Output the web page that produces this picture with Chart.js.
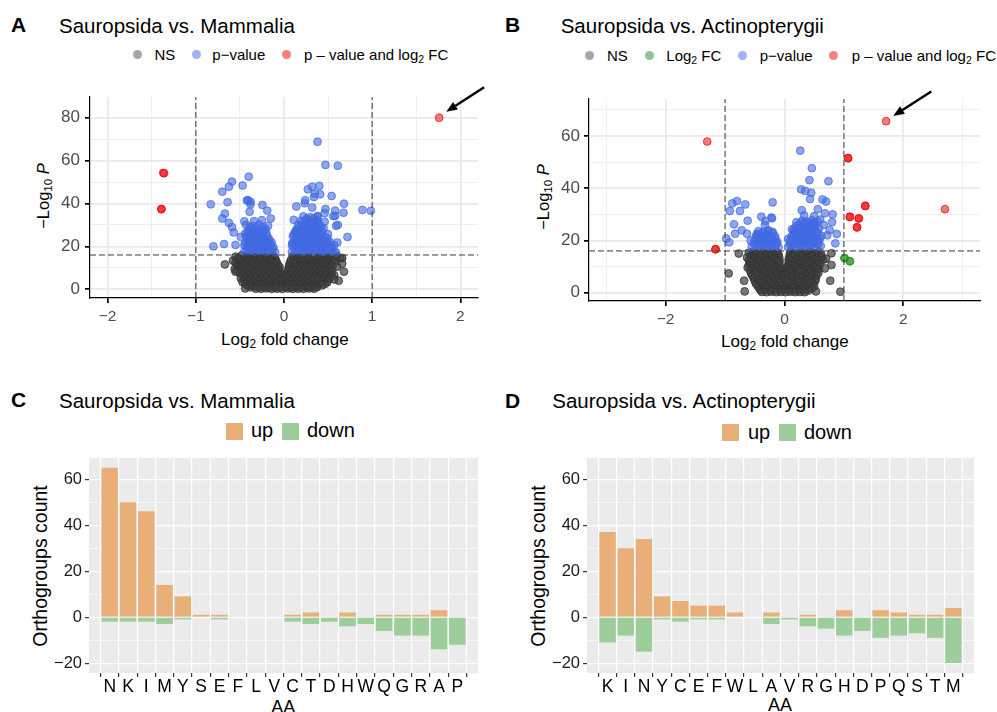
<!DOCTYPE html>
<html>
<head>
<meta charset="utf-8">
<title>Sauropsida volcano plots and AA orthogroups</title>
<script src="https://cdn.jsdelivr.net/npm/chart.js@4.4.1/dist/chart.umd.min.js"></script>
<style>
  html, body { margin: 0; padding: 0; background: #fff; }
  #fig { position: relative; width: 997px; height: 712px; overflow: hidden;
         font-family: 'Liberation Sans', Arial, Helvetica, sans-serif; color: #000; }
  #fig canvas { position: absolute; }
  .t { position: absolute; white-space: nowrap; line-height: 1; }
  .tag { font-size: 21px; font-weight: bold; }
  .title { font-size: 20.5px; }
  .lg { font-size: 15px; }
  .lg2 { font-size: 20px; }
  .dot { position: absolute; width: 9px; height: 9px; border-radius: 50%; }
  .sq { position: absolute; width: 17px; height: 17px; }
  .rot { position: absolute; white-space: nowrap; line-height: 1;
         transform: translate(-50%, -50%) rotate(-90deg); }
  sub { font-size: 0.7em; vertical-align: -0.25em; line-height: 0; }
</style>
</head>
<body>
<div id="fig">
  <!-- panel A -->
  <div class="t tag" style="left:11px;top:14px">A</div>
  <div class="t title" style="left:59px;top:15.6px">Sauropsida vs. Mammalia</div>
  <div class="dot" style="left:133.2px;top:49.5px;background:rgba(77,77,77,0.5)"></div>
  <div class="t lg" style="left:154.5px;top:47.3px">NS</div>
  <div class="dot" style="left:191.5px;top:49.5px;background:rgba(65,105,225,0.5)"></div>
  <div class="t lg" style="left:212.3px;top:47.3px">p&minus;value</div>
  <div class="dot" style="left:281.5px;top:49.5px;background:rgba(238,0,0,0.5)"></div>
  <div class="t lg" style="left:304px;top:47.3px">p &ndash; value and log<sub>2</sub> FC</div>
  <div class="rot" style="left:42.5px;top:196px;font-size:16.5px">&minus;Log<sub>10</sub> <i>P</i></div>
  <div class="t" style="left:221px;top:330.5px;font-size:17px">Log<sub>2</sub> fold change</div>

  <!-- panel B -->
  <div class="t tag" style="left:505px;top:14px">B</div>
  <div class="t title" style="left:560.7px;top:15.6px">Sauropsida vs. Actinopterygii</div>
  <div class="dot" style="left:584.5px;top:50.5px;background:rgba(77,77,77,0.5)"></div>
  <div class="t lg" style="left:607px;top:48px">NS</div>
  <div class="dot" style="left:644.8px;top:50.5px;background:rgba(34,139,34,0.5)"></div>
  <div class="t lg" style="left:666.3px;top:48px">Log<sub>2</sub> FC</div>
  <div class="dot" style="left:737.8px;top:50.5px;background:rgba(65,105,225,0.5)"></div>
  <div class="t lg" style="left:759.7px;top:48px">p&minus;value</div>
  <div class="dot" style="left:828.8px;top:50.5px;background:rgba(238,0,0,0.5)"></div>
  <div class="t lg" style="left:851.7px;top:48px">p &ndash; value and log<sub>2</sub> FC</div>
  <div class="rot" style="left:542.5px;top:197px;font-size:16.5px">&minus;Log<sub>10</sub> <i>P</i></div>
  <div class="t" style="left:721px;top:332.8px;font-size:17px">Log<sub>2</sub> fold change</div>

  <!-- panel C -->
  <div class="t tag" style="left:11px;top:389px">C</div>
  <div class="t title" style="left:59px;top:390.6px">Sauropsida vs. Mammalia</div>
  <div class="sq" style="left:226px;top:423.3px;background:#E8B078"></div>
  <div class="t lg2" style="left:251px;top:420.4px">up</div>
  <div class="sq" style="left:282px;top:423.3px;background:#9CCD9B"></div>
  <div class="t lg2" style="left:307px;top:420.4px">down</div>
  <div class="rot" style="left:40.8px;top:565.8px;font-size:19.5px">Orthogroups count</div>
  <div class="t" style="left:271.3px;top:697.7px;font-size:18px">AA</div>

  <!-- panel D -->
  <div class="t tag" style="left:505px;top:390px">D</div>
  <div class="t title" style="left:552.3px;top:391.3px">Sauropsida vs. Actinopterygii</div>
  <div class="sq" style="left:722px;top:424.3px;background:#E8B078"></div>
  <div class="t lg2" style="left:748px;top:422.4px">up</div>
  <div class="sq" style="left:778.7px;top:424.3px;background:#9CCD9B"></div>
  <div class="t lg2" style="left:804px;top:422.4px">down</div>
  <div class="rot" style="left:539px;top:565.8px;font-size:19.5px">Orthogroups count</div>
  <div class="t" style="left:768px;top:696px;font-size:18px">AA</div>

  <canvas id="volA" width="497" height="290" style="left:0;top:70px"></canvas>
  <canvas id="volB" width="500" height="290" style="left:497px;top:70px"></canvas>
  <canvas id="barC" width="497" height="272" style="left:0;top:440px"></canvas>
  <canvas id="barD" width="500" height="272" style="left:497px;top:440px"></canvas>
</div>

<script>
// ---- cut-offs used in both volcano plots ----
const fcCut = 1;
const pCut = 16;

// ---- panel A : Sauropsida vs. Mammalia (log2FC, -log10 P) ----
const nsA = [
  [-0.55,15.2],[-0.48,15.8],[-0.42,15.3],[-0.36,15.7],[-0.30,15.4],[-0.24,15.8],[-0.18,15.2],[-0.12,15.6],
  [0.10,15.5],[0.16,15.1],[0.22,15.7],[0.28,15.3],[0.34,15.8],[0.40,15.4],[0.46,15.6],[0.52,15.2],[0.60,15.6],[0.66,14.6],
  [-0.52,14.4],[-0.45,14.7],[-0.39,14.3],[-0.33,14.6],[-0.27,14.2],[-0.21,14.7],[-0.15,14.4],[-0.10,14.6],
  [0.11,14.3],[0.16,14.7],[0.22,14.4],[0.28,14.6],[0.34,14.2],[0.40,14.7],[0.46,14.3],[0.52,14.6],[0.58,14.4],
  [-0.58,13.4],[-0.51,13.9],[-0.45,13.2],[-0.39,13.7],[-0.33,13.3],[-0.27,13.8],[-0.21,13.4],[-0.15,13.6],[-0.09,13.2],
  [0.08,13.7],[0.13,13.2],[0.19,13.8],[0.25,13.3],[0.31,13.6],[0.37,13.2],[0.43,13.8],[0.49,13.4],[0.55,13.7],[0.64,14.4],
  [-0.55,12.4],[-0.49,12.7],[-0.43,12.3],[-0.37,12.6],[-0.31,12.4],[-0.25,12.7],[-0.19,12.3],[-0.13,12.6],[-0.08,12.4],
  [0.07,12.6],[0.14,12.3],[0.20,12.7],[0.26,12.4],[0.32,12.6],[0.38,12.3],[0.44,12.7],[0.50,12.4],[0.57,12.6],
  [-0.67,11.6],[-0.53,11.3],[-0.47,11.8],[-0.41,11.4],[-0.35,11.7],[-0.29,11.2],[-0.23,11.6],[-0.17,11.3],[-0.11,11.8],[-0.07,11.2],
  [0.06,11.5],[0.11,11.9],[0.17,11.2],[0.23,11.6],[0.29,11.3],[0.35,11.8],[0.41,11.4],[0.47,11.7],[0.53,11.2],[0.66,12.0],
  [-0.52,10.4],[-0.46,10.7],[-0.40,10.3],[-0.34,10.6],[-0.28,10.4],[-0.22,10.7],[-0.16,10.3],[-0.10,10.6],[-0.05,10.4],
  [0.06,10.6],[0.13,10.3],[0.19,10.7],[0.25,10.4],[0.31,10.6],[0.37,10.3],[0.43,10.7],[0.49,10.4],[0.55,10.6],
  [-0.56,9.4],[-0.49,9.8],[-0.43,9.3],[-0.37,9.7],[-0.31,9.2],[-0.25,9.6],[-0.19,9.3],[-0.13,9.8],[-0.07,9.4],
  [0.05,9.6],[0.10,9.2],[0.16,9.7],[0.22,9.3],[0.28,9.8],[0.34,9.4],[0.40,9.7],[0.46,9.2],[0.52,9.6],[0.60,10.5],
  [-0.53,8.6],[-0.47,8.4],[-0.41,8.7],[-0.35,8.3],[-0.29,8.6],[-0.23,8.4],[-0.17,8.7],[-0.11,8.3],[-0.05,8.6],
  [0.05,8.4],[0.11,8.7],[0.17,8.3],[0.23,8.6],[0.29,8.4],[0.35,8.7],[0.41,8.3],[0.47,8.6],[0.54,8.4],
  [-0.55,8.2],[-0.50,7.4],[-0.44,7.8],[-0.38,7.3],[-0.32,7.7],[-0.26,7.2],[-0.20,7.6],[-0.14,7.3],[-0.08,7.8],[-0.03,7.2],
  [0.03,7.5],[0.08,7.8],[0.14,7.2],[0.20,7.6],[0.26,7.3],[0.32,7.8],[0.38,7.4],[0.44,7.7],[0.50,7.2],[0.68,8.2],[0.57,6.6],
  [-0.47,6.5],[-0.41,6.7],[-0.35,6.3],[-0.29,6.6],[-0.23,6.4],[-0.17,6.7],[-0.11,6.3],[-0.05,6.6],[0.00,6.4],
  [0.06,6.7],[0.12,6.3],[0.18,6.6],[0.24,6.4],[0.30,6.7],[0.36,6.3],[0.42,6.6],[0.48,6.4],[0.54,6.6],
  [-0.49,5.1],[-0.44,5.6],[-0.38,5.3],[-0.32,5.8],[-0.26,5.4],[-0.20,5.7],[-0.14,5.2],[-0.08,5.6],[-0.02,5.3],
  [0.04,5.7],[0.10,5.2],[0.16,5.6],[0.22,5.3],[0.28,5.8],[0.34,5.4],[0.40,5.7],[0.46,5.2],[0.52,5.5],
  [-0.45,4.5],[-0.39,4.3],[-0.33,4.6],[-0.27,4.4],[-0.21,4.6],[-0.15,4.3],[-0.09,4.5],[-0.03,4.4],[0.03,4.6],
  [0.09,4.3],[0.15,4.5],[0.21,4.4],[0.27,4.6],[0.33,4.3],[0.39,4.5],[0.45,4.4],[0.51,4.6],
  [-0.47,3.4],[-0.41,3.8],[-0.35,3.3],[-0.29,3.7],[-0.23,3.2],[-0.17,3.6],[-0.11,3.3],[-0.05,3.8],[0.01,3.4],
  [0.07,3.7],[0.13,3.2],[0.19,3.6],[0.25,3.3],[0.31,3.8],[0.37,3.4],[0.43,3.6],[0.49,3.2],[0.62,4.0],[0.57,4.6],
  [-0.44,2.5],[-0.38,2.3],[-0.32,2.6],[-0.26,2.4],[-0.20,2.6],[-0.14,2.3],[-0.08,2.5],[-0.02,2.4],[0.04,2.6],
  [0.10,2.3],[0.16,2.5],[0.22,2.4],[0.28,2.6],[0.34,2.3],[0.40,2.5],[0.46,2.4],
  [-0.41,1.6],[-0.35,1.3],[-0.29,1.8],[-0.23,1.4],[-0.17,1.7],[-0.11,1.2],[-0.05,1.6],[0.01,1.3],[0.07,1.8],
  [0.13,1.4],[0.19,1.7],[0.25,1.2],[0.31,1.6],[0.37,1.4],[0.43,1.8],
  [-0.38,0.9],[-0.29,0.8],[-0.23,1.0],[-0.17,0.8],[-0.11,0.9],[-0.05,0.8],[0.01,1.0],[0.07,0.8],[0.13,0.9],
  [0.19,0.8],[0.25,1.0],[0.31,0.8],[0.37,0.9],
  [-0.44,0.4],[-0.32,0.3],[-0.26,0.2],[-0.20,0.4],[-0.14,0.2],[-0.08,0.3],[-0.02,0.2],[0.04,0.4],[0.10,0.2],
  [0.16,0.3],[0.22,0.2],[0.28,0.4],[0.34,0.3]
];
const pvalA = [
  [0.38,68.8],[0.47,58.0],[0.61,57.6],[-0.40,52.5],[-0.59,50.2],[-0.625,47.8],[-0.70,45.5],[-0.47,48.4],
  [-0.83,39.6],[-0.64,40.6],[-0.42,41.4],[-0.38,39.6],[-0.245,39.3],[-0.39,36.2],[-0.19,36.7],[-0.67,35.3],
  [-0.70,33.0],[-0.625,31.0],[-0.59,29.0],[-0.57,26.5],[-0.45,31.7],[-0.15,33.0],[-0.80,20.0],[-0.68,21.1],
  [-0.55,20.7],[-0.49,24.4],[-0.38,40.8],[-0.41,41.6],
  [0.27,46.6],[0.32,47.8],[0.40,48.2],[0.35,44.6],[0.41,44.3],[0.54,43.5],[0.68,39.9],[0.235,40.1],[0.14,38.6],
  [0.32,38.1],[0.47,37.4],[0.58,36.7],[0.675,35.7],[0.56,34.1],[0.89,37.0],[0.985,36.6],[0.72,24.4],[0.61,30.0],
  [0.605,21.8],[0.11,32.4],[0.13,26.9],[0.095,21.5],[0.59,17.2],[0.34,43.0],[0.38,33.8],[0.46,35.5],[0.58,34.2],
  [0.59,29.6],[0.24,41.5],
  [-0.45,17.6],[-0.39,18.2],[-0.33,17.5],[-0.27,18.0],[-0.21,17.4],[-0.15,17.9],[-0.10,17.3],
  [-0.42,18.6],[-0.36,18.8],[-0.30,18.5],[-0.24,18.9],[-0.18,18.6],[-0.13,18.8],
  [-0.42,19.8],[-0.36,19.3],[-0.30,20.0],[-0.24,19.4],[-0.18,19.9],[-0.12,19.5],
  [-0.45,20.6],[-0.39,20.9],[-0.33,20.5],[-0.27,20.8],[-0.21,20.6],[-0.15,20.9],
  [-0.44,21.7],[-0.38,22.3],[-0.32,21.5],[-0.26,22.0],[-0.20,21.4],[-0.14,21.9],
  [-0.41,22.7],[-0.35,22.9],[-0.29,22.6],[-0.23,22.9],[-0.17,22.6],
  [-0.41,23.6],[-0.35,24.2],[-0.29,23.5],[-0.23,24.0],[-0.17,23.4],
  [-0.43,24.8],[-0.37,25.0],[-0.31,24.7],[-0.25,25.0],[-0.19,24.8],
  [-0.44,26.0],[-0.38,25.4],[-0.32,26.1],[-0.26,25.5],[-0.20,26.2],
  [-0.41,26.8],[-0.35,27.0],[-0.29,26.7],[-0.23,27.0],
  [-0.40,27.8],[-0.33,28.3],[-0.27,27.6],[-0.21,28.1],
  [-0.39,28.9],[-0.31,29.0],[-0.24,28.8],
  [-0.43,30.0],[-0.36,29.5],[-0.28,30.2],[-0.18,29.6],[-0.34,31.8],[-0.25,32.2],
  [0.09,17.6],[0.15,18.1],[0.21,17.4],[0.27,18.0],[0.33,17.5],[0.39,18.2],[0.45,17.4],[0.51,18.0],[0.57,17.5],
  [0.12,18.7],[0.18,18.5],[0.24,18.8],[0.30,18.6],[0.36,18.8],[0.42,18.5],[0.48,18.7],[0.54,18.6],
  [0.12,19.9],[0.18,19.3],[0.24,20.0],[0.30,19.4],[0.36,19.8],[0.42,19.3],[0.48,19.9],[0.54,19.5],
  [0.09,20.6],[0.15,20.8],[0.21,20.5],[0.27,20.8],[0.33,20.6],[0.39,20.9],[0.45,20.6],[0.51,20.8],[0.57,20.6],
  [0.10,21.6],[0.16,22.2],[0.22,21.5],[0.28,22.0],[0.34,21.4],[0.40,22.1],[0.46,21.6],[0.52,22.2],
  [0.13,22.7],[0.19,22.9],[0.25,22.6],[0.31,22.9],[0.37,22.7],[0.43,22.9],[0.49,22.6],
  [0.13,23.9],[0.19,23.4],[0.25,24.1],[0.31,23.5],[0.37,24.0],[0.43,23.4],[0.49,23.8],
  [0.10,24.7],[0.16,24.9],[0.22,24.6],[0.28,24.9],[0.34,24.7],[0.40,24.9],[0.46,24.6],
  [0.11,25.6],[0.17,26.1],[0.23,25.5],[0.29,26.0],[0.35,25.4],[0.41,26.2],[0.50,25.7],
  [0.13,26.9],[0.19,27.1],[0.25,26.8],[0.31,27.1],[0.37,26.9],[0.43,27.0],
  [0.14,27.8],[0.20,28.3],[0.26,27.6],[0.32,28.2],[0.38,27.7],[0.45,28.4],
  [0.17,29.0],[0.23,29.2],[0.29,28.9],[0.35,29.1],[0.42,29.0],
  [0.16,30.1],[0.22,29.6],[0.28,30.3],[0.34,29.7],[0.40,30.2],
  [0.21,31.0],[0.27,31.2],[0.33,30.9],[0.39,31.1],
  [0.19,31.9],[0.25,32.4],[0.31,31.7],[0.37,32.2],[0.46,31.5],
  [0.26,33.0],[0.34,33.1],
  [0.22,34.0],[0.30,33.6],[0.38,34.2]
];
const bothA = [[-1.36,54.1],[-1.37,54.3],[-1.39,37.3],[-1.39,37.5],[1.76,80.0]];
const arrowA = [2.27, 94.2, 1.84, 82.8];

// ---- panel B : Sauropsida vs. Actinopterygii ----
const nsB = [
  [-0.77,15.0],[-0.60,15.3],[-0.52,15.8],[-0.44,15.2],[-0.36,15.7],[-0.28,15.3],[-0.20,15.8],[-0.12,15.4],
  [0.10,15.6],[0.18,15.2],[0.26,15.8],[0.34,15.3],[0.42,15.7],[0.50,15.2],[0.58,15.6],[0.79,15.1],
  [-0.56,14.5],[-0.48,14.7],[-0.40,14.4],[-0.32,14.6],[-0.24,14.4],[-0.16,14.7],[-0.10,14.5],
  [0.09,14.6],[0.14,14.4],[0.22,14.7],[0.30,14.5],[0.38,14.6],[0.46,14.4],[0.54,14.7],[0.62,14.5],
  [-0.63,13.5],[-0.56,13.9],[-0.48,13.3],[-0.40,13.8],[-0.32,13.4],[-0.24,13.9],[-0.16,13.3],[-0.09,13.7],
  [0.08,13.4],[0.14,13.9],[0.22,13.3],[0.30,13.8],[0.38,13.4],[0.46,13.9],[0.54,13.3],[0.62,13.7],[0.70,13.0],
  [-0.60,12.5],[-0.52,12.7],[-0.44,12.4],[-0.36,12.6],[-0.28,12.4],[-0.20,12.7],[-0.12,12.5],[-0.08,12.3],
  [0.07,12.6],[0.10,12.4],[0.18,12.7],[0.26,12.5],[0.34,12.6],[0.42,12.4],[0.50,12.7],[0.58,12.5],[0.65,12.6],
  [-0.58,11.6],[-0.50,11.2],[-0.42,11.7],[-0.34,11.3],[-0.26,11.8],[-0.18,11.4],[-0.10,11.7],
  [0.07,11.3],[0.13,11.8],[0.21,11.4],[0.29,11.7],[0.37,11.2],[0.45,11.6],[0.53,11.3],[0.60,11.2],[0.79,10.6],
  [-0.60,10.5],[-0.54,10.7],[-0.46,10.4],[-0.38,10.6],[-0.30,10.4],[-0.22,10.7],[-0.14,10.5],[-0.08,10.6],
  [0.06,10.4],[0.10,10.7],[0.17,10.5],[0.25,10.6],[0.33,10.4],[0.41,10.7],[0.49,10.5],[0.56,10.6],
  [-0.62,9.6],[-0.54,9.3],[-0.46,9.8],[-0.38,9.4],[-0.30,9.7],[-0.22,9.3],[-0.14,9.8],[-0.07,9.4],
  [0.06,9.6],[0.12,9.2],[0.20,9.7],[0.28,9.3],[0.36,9.8],[0.44,9.4],[0.52,9.7],[0.58,9.3],[0.68,9.3],
  [-0.58,8.5],[-0.50,8.7],[-0.42,8.4],[-0.34,8.6],[-0.26,8.4],[-0.18,8.7],[-0.10,8.5],[-0.04,8.6],
  [0.04,8.4],[0.09,8.7],[0.16,8.5],[0.24,8.6],[0.32,8.4],[0.40,8.7],[0.48,8.5],[0.55,8.6],
  [-0.94,7.4],[-0.56,7.3],[-0.48,7.8],[-0.40,7.4],[-0.32,7.7],[-0.24,7.3],[-0.16,7.8],[-0.08,7.4],[-0.03,7.1],
  [0.04,7.2],[0.10,7.7],[0.18,7.3],[0.26,7.8],[0.34,7.4],[0.42,7.7],[0.50,7.3],[0.57,7.6],
  [-0.54,6.5],[-0.46,6.7],[-0.38,6.4],[-0.30,6.6],[-0.22,6.4],[-0.14,6.7],[-0.06,6.5],[0.00,6.6],
  [0.06,6.4],[0.14,6.7],[0.22,6.5],[0.30,6.6],[0.38,6.4],[0.46,6.7],[0.54,6.5],
  [-0.52,5.6],[-0.44,5.2],[-0.36,5.7],[-0.28,5.3],[-0.20,5.8],[-0.12,5.4],[-0.04,5.7],
  [0.04,5.3],[0.12,5.8],[0.20,5.4],[0.28,5.7],[0.36,5.3],[0.44,5.6],[0.52,5.2],
  [-0.50,4.5],[-0.42,4.7],[-0.34,4.4],[-0.26,4.6],[-0.18,4.4],[-0.10,4.7],[-0.02,4.5],
  [0.06,4.6],[0.14,4.4],[0.22,4.7],[0.30,4.5],[0.38,4.6],[0.46,4.4],[0.52,4.6],
  [-0.68,4.6],[-0.48,3.4],[-0.40,3.8],[-0.32,3.3],[-0.24,3.7],[-0.16,3.4],[-0.08,3.8],[0.00,3.3],
  [0.08,3.7],[0.16,3.4],[0.24,3.8],[0.32,3.3],[0.40,3.6],[0.48,3.4],[0.77,4.6],
  [-0.45,2.5],[-0.37,2.7],[-0.29,2.4],[-0.21,2.6],[-0.13,2.4],[-0.05,2.7],[0.03,2.5],
  [0.11,2.6],[0.19,2.4],[0.27,2.7],[0.35,2.5],[0.43,2.6],[0.50,2.4],
  [-0.42,1.5],[-0.34,1.8],[-0.26,1.4],[-0.18,1.7],[-0.10,1.3],[-0.02,1.6],
  [0.06,1.4],[0.14,1.8],[0.22,1.3],[0.30,1.7],[0.38,1.4],[0.46,1.6],
  [-0.40,0.9],[-0.32,1.0],[-0.24,0.8],[-0.16,1.0],[-0.08,0.9],[0.00,1.0],[0.08,0.8],[0.16,1.0],
  [0.24,0.9],[0.32,1.0],[0.40,0.8],
  [-0.67,0.5],[-0.38,0.3],[-0.30,0.2],[-0.22,0.4],[-0.14,0.2],[-0.06,0.3],[0.02,0.2],
  [0.10,0.4],[0.18,0.2],[0.26,0.3],[0.34,0.2],[0.53,0.5],[0.94,0.4]
];
const fcB = [[1.01,13.2],[1.01,13.3],[1.10,12.0],[1.10,12.1]];
const pvalB = [
  [0.265,54.4],[0.46,47.7],[0.42,43.1],[0.74,42.7],[0.28,39.6],[0.35,39.0],[0.45,38.3],[0.43,35.9],[0.64,35.7],
  [0.70,34.9],[0.29,31.6],[0.56,32.0],[0.68,30.4],[0.81,30.0],[0.125,24.3],[0.76,24.0],[0.88,22.5],[0.855,18.9],
  [0.80,27.0],[0.20,27.0],[0.48,26.5],[0.60,28.0],[0.66,26.0],[0.72,22.0],[0.58,24.5],
  [-0.20,34.6],[-0.80,35.1],[-0.88,34.2],[-0.92,31.3],[-0.75,31.3],[-0.66,33.8],[-0.85,26.2],[-0.62,27.6],
  [-0.39,29.1],[-0.21,28.5],[-0.33,25.9],[-0.98,20.8],[-0.93,19.3],[-0.72,23.9],[-0.83,22.6],[-0.63,22.6],
  [-0.47,22.3],[-0.57,20.0],[-0.27,23.9],[-0.32,27.5],[-0.22,28.8],
  [-0.55,17.6],[-0.47,18.1],[-0.39,17.4],[-0.31,18.0],[-0.23,17.5],[-0.15,18.1],[-0.10,17.4],
  [-0.51,18.6],[-0.43,18.8],[-0.35,18.5],[-0.27,18.8],[-0.19,18.6],[-0.13,18.9],
  [-0.51,19.8],[-0.43,19.3],[-0.35,19.9],[-0.27,19.4],[-0.19,19.8],[-0.12,19.3],
  [-0.47,20.6],[-0.39,20.8],[-0.31,20.5],[-0.23,20.8],[-0.15,20.6],
  [-0.48,21.6],[-0.40,21.2],[-0.32,21.8],[-0.24,21.3],[-0.16,21.7],
  [-0.44,22.6],[-0.36,22.8],[-0.28,22.5],[-0.20,22.8],
  [-0.44,23.6],[-0.36,23.2],[-0.28,23.8],[-0.20,23.3],
  [0.06,17.5],[0.13,18.1],[0.21,17.4],[0.29,18.0],[0.37,17.5],[0.45,18.1],[0.53,17.4],[0.61,17.9],
  [0.09,18.6],[0.17,18.8],[0.25,18.5],[0.33,18.8],[0.41,18.6],[0.49,18.9],[0.57,18.6],
  [0.09,19.8],[0.17,19.3],[0.25,19.9],[0.33,19.4],[0.41,19.8],[0.49,19.3],[0.57,19.9],
  [0.06,20.6],[0.13,20.8],[0.21,20.5],[0.29,20.8],[0.37,20.6],[0.45,20.9],[0.53,20.6],[0.60,20.8],
  [0.12,21.6],[0.20,21.2],[0.28,21.8],[0.36,21.3],[0.44,21.7],[0.52,21.2],[0.62,21.8],
  [0.16,22.6],[0.24,22.8],[0.32,22.5],[0.40,22.8],[0.48,22.6],[0.56,22.8],
  [0.15,23.6],[0.23,23.2],[0.31,23.8],[0.39,23.3],[0.47,23.7],[0.55,23.3],
  [0.17,24.6],[0.25,24.8],[0.33,24.5],[0.41,24.8],[0.49,24.6],
  [0.20,25.6],[0.28,25.2],[0.36,25.8],[0.44,25.3],[0.52,25.7],
  [0.26,26.6],[0.34,26.8],[0.42,26.5],[0.50,26.8],
  [0.30,27.6],[0.38,27.2],[0.46,27.8],[0.56,27.3],[0.33,29.6],[0.50,29.3]
];
const bothB = [
  [-1.30,57.9],[-1.16,16.6],[-1.16,16.7],[1.71,65.7],[1.07,51.5],[1.07,51.6],[1.36,33.2],[1.36,33.3],
  [1.10,29.0],[1.10,29.1],[1.25,28.4],[1.25,28.5],[1.22,25.0],[1.22,25.1],[2.70,32.0]
];
const arrowB = [2.47, 77.1, 1.83, 67.7];

// ---- panels C and D : orthogroups per amino acid ----
const aaC   = ['N','K','I','M','Y','S','E','F','L','V','C','T','D','H','W','Q','G','R','A','P'];
const upC   = [65, 50, 46, 14, 9, 1, 1, 0, 0, 0, 1, 2, 0, 2, 0, 1, 1, 1, 3, 0];
const downC = [-2, -2, -2, -3, -1, 0, -1, 0, 0, 0, -2, -3, -2, -4, -3, -6, -8, -8, -14, -12];

const aaD   = ['K','I','N','Y','C','E','F','W','L','A','V','R','G','H','D','P','Q','S','T','M'];
const upD   = [37, 30, 34, 9, 7, 5, 5, 2, 0, 2, 0, 1, 0, 3, 0, 3, 2, 1, 1, 4];
const downD = [-11, -8, -15, -1, -2, -1, -1, 0, 0, -3, -1, -4, -5, -8, -6, -9, -8, -7, -9, -20];

Chart.defaults.font.family = "'Liberation Sans', Arial, Helvetica, sans-serif";

const fmt = v => v < 0 ? '\u2212' + Math.abs(v) : String(v);
const toPts = arr => arr.map(([x, y]) => ({ x, y }));

// arrow pointing at the highlighted gene, placed in data coordinates
const arrowPlugin = {
  id: 'arrow',
  afterDatasetsDraw(chart, args, opts) {
    if (!opts.at) return;
    const { ctx, scales: { x, y } } = chart;
    const x0 = x.getPixelForValue(opts.at[0]), y0 = y.getPixelForValue(opts.at[1]);
    const x1 = x.getPixelForValue(opts.at[2]), y1 = y.getPixelForValue(opts.at[3]);
    const ang = Math.atan2(y1 - y0, x1 - x0);
    const len = 11, half = 4.5;
    const bx = x1 - len * Math.cos(ang), by = y1 - len * Math.sin(ang);
    ctx.save();
    ctx.strokeStyle = '#000';
    ctx.fillStyle = '#000';
    ctx.lineWidth = 2.4;
    ctx.beginPath();
    ctx.moveTo(x0, y0);
    ctx.lineTo(bx, by);
    ctx.stroke();
    ctx.beginPath();
    ctx.moveTo(x1, y1);
    ctx.lineTo(bx + half * Math.sin(ang), by - half * Math.cos(ang));
    ctx.lineTo(bx - half * Math.sin(ang), by + half * Math.cos(ang));
    ctx.closePath();
    ctx.fill();
    ctx.restore();
  }
};

// grey ggplot panel behind the bars
const panelBg = {
  id: 'panelBg',
  beforeDraw(chart, args, opts) {
    if (!opts.color) return;
    const { ctx, chartArea: a } = chart;
    ctx.save();
    ctx.fillStyle = opts.color;
    ctx.fillRect(a.left, a.top, a.width, a.height);
    ctx.restore();
  }
};

function pointSet(pts, fill, line) {
  return {
    data: toPts(pts),
    backgroundColor: fill,
    borderColor: line,
    borderWidth: 1,
    pointRadius: 3.9,
    pointHoverRadius: 3.9
  };
}

function cutLine(x0, y0, x1, y1) {
  return {
    type: 'line',
    data: [{ x: x0, y: y0 }, { x: x1, y: y1 }],
    borderColor: '#3a3a3a',
    borderWidth: 1,
    borderDash: [6, 3],
    pointRadius: 0,
    fill: false
  };
}

function volcano(id, c) {
  const [xmin, xmax] = c.xLim, [ymin, ymax] = c.yLim;
  const isMajorX = v => Math.abs(v % c.xMajor) < 1e-9;
  const isMajorY = v => v % 20 === 0;
  const sets = [
    cutLine(-fcCut, ymin, -fcCut, ymax),
    cutLine(fcCut, ymin, fcCut, ymax),
    cutLine(xmin, pCut, xmax, pCut),
    pointSet(c.both, 'rgba(238,0,0,0.52)', 'rgba(225,0,0,0.65)')
  ];
  if (c.fc) sets.push(pointSet(c.fc, 'rgba(34,139,34,0.5)', 'rgba(34,139,34,0.7)'));
  sets.push(pointSet(c.pval, 'rgba(65,105,225,0.6)', 'rgba(65,105,225,0.75)'));
  sets.push(pointSet(c.ns, 'rgba(64,64,64,0.7)', 'rgba(50,50,50,0.8)'));

  new Chart(document.getElementById(id), {
    type: 'scatter',
    data: { datasets: sets },
    options: {
      responsive: false,
      animation: false,
      events: [],
      layout: { padding: c.pad },
      plugins: { legend: { display: false }, tooltip: { enabled: false }, arrow: { at: c.arrow } },
      scales: {
        x: {
          min: xmin, max: xmax,
          afterFit: s => { s.height = c.xAxisH; },
          ticks: {
            stepSize: c.xStep, autoSkip: false, maxRotation: 0, includeBounds: false,
            callback: v => isMajorX(v) ? fmt(v) : '',
            color: '#4d4d4d', font: { size: 15.5, lineHeight: 1 }, padding: 6
          },
          grid: {
            color: ctx => isMajorX(ctx.tick.value) ? '#e9e9e9' : '#efefef',
            lineWidth: ctx => isMajorX(ctx.tick.value) ? 1.7 : 1,
            tickLength: 5,
            tickColor: ctx => isMajorX(ctx.tick.value) ? '#000' : 'rgba(0,0,0,0)'
          },
          border: { display: true, color: '#000', width: 1.2 }
        },
        y: {
          min: ymin, max: ymax,
          afterFit: s => { s.width = c.yAxisW; },
          ticks: {
            stepSize: 10, autoSkip: false, includeBounds: false,
            callback: v => isMajorY(v) ? fmt(v) : '',
            color: '#4d4d4d', font: { size: 17 }, padding: c.yPad
          },
          grid: {
            color: ctx => isMajorY(ctx.tick.value) ? '#e9e9e9' : '#efefef',
            lineWidth: ctx => isMajorY(ctx.tick.value) ? 1.7 : 1,
            tickLength: 5,
            tickColor: ctx => isMajorY(ctx.tick.value) ? '#000' : 'rgba(0,0,0,0)'
          },
          border: { display: true, color: '#000', width: 1.2 }
        }
      }
    },
    plugins: [arrowPlugin]
  });
}

function aaBars(id, aa, up, down, c) {
  const isMajorY = v => v % 20 === 0;
  new Chart(document.getElementById(id), {
    type: 'bar',
    data: {
      datasets: [
        { label: 'up', data: up.map((v, i) => ({ x: i, y: v })), backgroundColor: '#E8B078',
          grouped: false, categoryPercentage: 1, barPercentage: 0.9 },
        { label: 'down', data: down.map((v, i) => ({ x: i, y: v })), backgroundColor: '#9CCD9B',
          grouped: false, categoryPercentage: 1, barPercentage: 0.9 }
      ]
    },
    options: {
      responsive: false,
      animation: false,
      events: [],
      layout: { padding: c.pad },
      plugins: { legend: { display: false }, tooltip: { enabled: false }, panelBg: { color: '#EBEBEB' } },
      scales: {
        x: {
          type: 'linear', min: -0.6, max: aa.length - 0.4,
          afterFit: s => { s.height = c.xAxisH; },
          ticks: {
            stepSize: 1, autoSkip: false, maxRotation: 0, includeBounds: false,
            callback: v => aa[v] ?? '',
            color: '#000', font: { size: 17.5, lineHeight: 1 }, padding: 1
          },
          grid: { color: '#fff', lineWidth: 1.2, tickLength: 4, tickColor: '#333' },
          border: { display: false }
        },
        y: {
          min: -24.3, max: 69.2,
          afterFit: s => { s.width = c.yAxisW; },
          ticks: {
            stepSize: 10, autoSkip: false, includeBounds: false,
            callback: v => isMajorY(v) ? fmt(v) : '',
            color: '#1a1a1a', font: { size: 16.5 }, padding: 3
          },
          grid: {
            color: '#fff',
            lineWidth: ctx => isMajorY(ctx.tick.value) ? 1.2 : 0.6,
            tickLength: 4,
            tickColor: ctx => isMajorY(ctx.tick.value) ? '#333' : 'rgba(0,0,0,0)'
          },
          border: { display: false }
        }
      }
    },
    plugins: [panelBg]
  });
}

volcano('volA', {
  ns: nsA, pval: pvalA, both: bothA, arrow: arrowA,
  xLim: [-2.2, 2.2], yLim: [-4.06, 89.65], xStep: 0.5, xMajor: 1,
  pad: { top: 27, right: 19, left: 0, bottom: 0 }, yAxisW: 90, xAxisH: 62, yPad: 5
});

volcano('volB', {
  ns: nsB, fc: fcB, pval: pvalB, both: bothB, arrow: arrowB,
  xLim: [-3.29, 3.29], yLim: [-3.18, 74.2], xStep: 1, xMajor: 2,
  pad: { top: 29, right: 17, left: 0, bottom: 0 }, yAxisW: 92, xAxisH: 59, yPad: 4
});

aaBars('barC', aaC, upC, downC, { pad: { top: 18, right: 19, left: 0, bottom: 0 }, yAxisW: 89, xAxisH: 39 });
aaBars('barD', aaD, upD, downD, { pad: { top: 18, right: 23, left: 0, bottom: 0 }, yAxisW: 90, xAxisH: 39 });
</script>
</body>
</html>
